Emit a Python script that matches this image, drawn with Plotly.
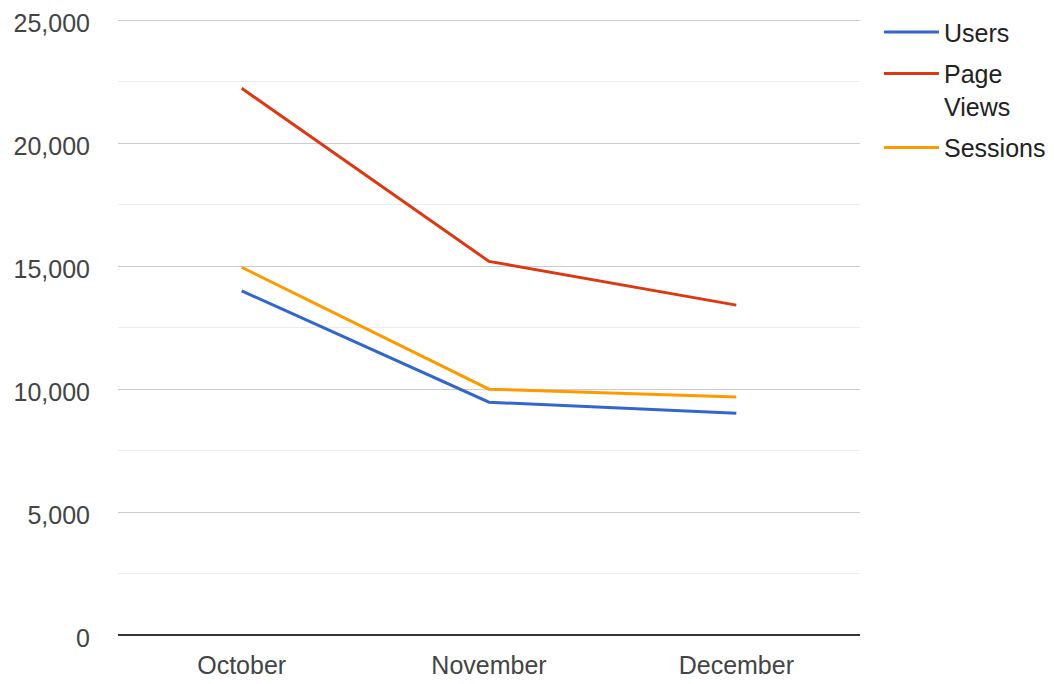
import plotly.graph_objects as go

# ---- 数据 ----
months = ["October", "November", "December"]
users = [14000, 9470, 9020]
page_views = [22240, 15200, 13420]
sessions = [14960, 10000, 9680]

series = [
    ("Users", users, "#3366cc"),
    ("Page<br>Views", page_views, "#dc3912"),
    ("Sessions", sessions, "#ff9900"),
]

fig = go.Figure()
for i, (name, vals, color) in enumerate(series):
    fig.add_trace(go.Scatter(
        x=months, y=vals, mode="lines", name=name,
        legendgroup=f"g{i}",
        line=dict(color=color, width=3)
    ))

fig.update_xaxes(
    showgrid=False, showline=False, zeroline=False, ticks="",
    tickfont=dict(size=25, color="#444444"),
    range=[-0.5, 2.5], automargin=False, ticklabelstandoff=13
)
# 上限略大于 25000，保证顶部网格线和刻度标签都会画出来
fig.update_yaxes(
    range=[0, 25060], dtick=5000, tickformat=",",
    showgrid=True, gridcolor="#cccccc", gridwidth=1,
    minor=dict(dtick=2500, showgrid=True, gridcolor="#ececec", gridwidth=1),
    zeroline=True, zerolinecolor="#333333", zerolinewidth=2,
    showline=False, ticks="", automargin=False, ticklabeloverflow="allow",
    ticklabelshift=3,
    tickfont=dict(size=25, color="#444444"), ticklabelstandoff=27
)

# 页面 body 默认有 8px 边距，边距按此补偿
fig.update_layout(
    width=1063, height=684,
    margin=dict(l=110, r=211, t=11, b=57, autoexpand=False),
    plot_bgcolor="white", paper_bgcolor="white",
    font=dict(family="Liberation Sans, Arial, sans-serif", color="#222222"),
    legend=dict(
        x=1.0256, y=1.016, xanchor="left", yanchor="top",
        font=dict(size=25, color="#222222"),
        valign="top", tracegroupgap=6, itemwidth=55
    ),
    showlegend=True
)

fig.write_html("out.html")
